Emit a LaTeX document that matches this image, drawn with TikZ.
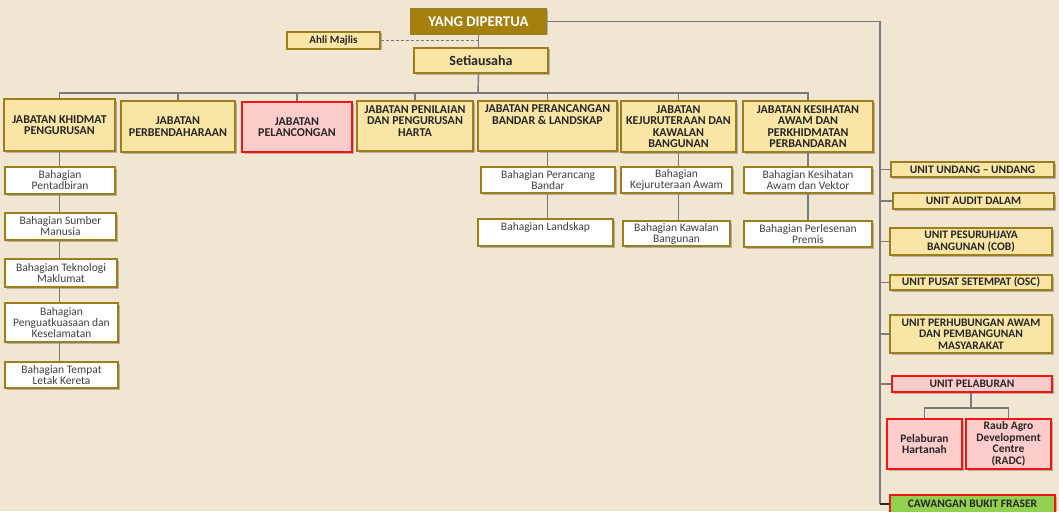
\documentclass[tikz,border=0pt]{standalone}
\usepackage{fontspec}
\setmainfont{Carlito}
\usepackage{tikz}
\usetikzlibrary{positioning,calc,shadows}
\definecolor{PageTan}{RGB}{240,230,209}
\definecolor{BoxYellow}{RGB}{249,229,165}
\definecolor{GoldLine}{RGB}{156,126,28}
\definecolor{HeadGold}{RGB}{166,128,14}
\definecolor{HotRed}{RGB}{245,20,20}
\definecolor{PinkFill}{RGB}{255,204,204}
\definecolor{FraserGreen}{RGB}{146,208,80}
\definecolor{LineGray}{RGB}{122,122,122}
\tikzset{
	box/.style={draw=GoldLine,line width=1.5pt,fill=BoxYellow,inner sep=0pt,align=center,text=black!85,
		drop shadow={shadow xshift=1.5pt,shadow yshift=-1.5pt,opacity=0.35,fill=black!70}},
	sz/.style 2 args={minimum width=#1,minimum height=#2},
	headbox/.style={box,fill=HeadGold,text=white,font=\bfseries\fontsize{14.8}{15}\selectfont},
	dept/.style={box,font=\bfseries\fontsize{12}{11.5}\selectfont},
	sub/.style={box,fill=white,text=black!75,font=\fontsize{11.5}{11}\selectfont},
	unit/.style={box,font=\bfseries\fontsize{11.5}{11.5}\selectfont},
	hot/.style={draw=HotRed,fill=PinkFill},
	conn/.style={draw=LineGray,line width=1.4pt},
}

\begin{document}
\begin{tikzpicture}[x=1pt,y=-1pt]
	\fill[PageTan] (0,0) rectangle (1059,511);
	\useasboundingbox (0,0) rectangle (1059,511);
	% top of the chart
	\node[headbox,sz={135pt}{25pt}] (ydp) at (478.5,21.5) {YANG DIPERTUA};
	\node[box,sz={93pt}{17pt},font=\bfseries\fontsize{11}{11}\selectfont] (ahli) at (333.5,40.5) {Ahli Majlis};
	\node[box,sz={134pt}{25pt},font=\bfseries\fontsize{14}{14}\selectfont] (sua) at (481,60.5) {Setiausaha};
	\coordinate (bus) at (478,93);
	\coordinate (trunk) at (880,0);
	% jabatan
	\node[dept,sz={111pt}{52pt}] (d1) at (59.5,125) {JABATAN KHIDMAT\\PENGURUSAN};
	\node[dept,sz={114pt}{51pt}] (d2) at (178,126.5) {JABATAN\\PERBENDAHARAAN};
	\node[dept,hot,sz={110pt}{50pt}] (d3) at (297,127) {JABATAN\\PELANCONGAN};
	\node[dept,sz={116pt}{50pt},text depth=10pt] (d4) at (415,126) {JABATAN PENILAIAN\\DAN PENGURUSAN\\HARTA};
	\node[dept,sz={139pt}{50pt},text depth=23pt] (d5) at (547.5,126) {JABATAN PERANCANGAN\\BANDAR \& LANDSKAP};
	\node[dept,sz={115pt}{51pt}] (d6) at (678.5,126.5) {JABATAN\\KEJURUTERAAN DAN\\KAWALAN\\BANGUNAN};
	\node[dept,sz={130pt}{51pt}] (d7) at (808,126.5) {JABATAN KESIHATAN\\AWAM DAN\\PERKHIDMATAN\\PERBANDARAN};
	% bahagian
	\node[sub,sz={110pt}{27pt}] (s11) at (60,180.5) {Bahagian\\Pentadbiran};
	\node[sub,sz={111pt}{27pt}] (s12) at (60.5,226.5) {Bahagian Sumber\\Manusia};
	\node[sub,sz={112pt}{28pt}] (s13) at (61,273) {Bahagian Teknologi\\Maklumat};
	\node[sub,sz={113pt}{39pt}] (s14) at (61.5,322.5) {Bahagian\\Penguatkuasaan dan\\Keselamatan};
	\node[sub,sz={113pt}{26pt}] (s15) at (61.5,375) {Bahagian Tempat\\Letak Kereta};
	\node[sub,sz={134pt}{26pt}] (s51) at (548,180) {Bahagian Perancang\\Bandar};
	\node[sub,sz={135pt}{27pt},text depth=11pt] (s52) at (545.5,232.5) {Bahagian Landskap};
	\node[sub,sz={111pt}{26pt}] (s61) at (676.5,180) {Bahagian\\Kejuruteraan Awam};
	\node[sub,sz={107pt}{25pt}] (s62) at (676.5,233.5) {Bahagian Kawalan\\Bangunan};
	\node[sub,sz={128pt}{26pt}] (s71) at (808,180) {Bahagian Kesihatan\\Awam dan Vektor};
	\node[sub,sz={128pt}{26pt}] (s72) at (808,234) {Bahagian Perlesenan\\Premis};
	% unit
	\node[unit,sz={163pt}{15pt}] (u1) at (972.5,169.5) {UNIT UNDANG -- UNDANG};
	\node[unit,sz={161pt}{16pt}] (u2) at (973.5,201) {UNIT AUDIT DALAM};
	\node[unit,sz={162pt}{27pt}] (u3) at (971,241.5) {UNIT PESURUHJAYA\\BANGUNAN (COB)};
	\node[unit,sz={162pt}{15pt}] (u4) at (971,282.5) {UNIT PUSAT SETEMPAT (OSC)};
	\node[unit,sz={162pt}{38pt}] (u5) at (971,334) {UNIT PERHUBUNGAN AWAM\\DAN PEMBANGUNAN\\MASYARAKAT};
	\node[unit,hot,sz={160pt}{16pt}] (u6) at (972,384) {UNIT PELABURAN};
	\node[unit,hot,sz={75pt}{50pt}] (p1) at (924.5,444) {Pelaburan\\Hartanah};
	\node[unit,hot,sz={85pt}{50pt}] (p2) at (1008.5,444) {Raub Agro\\Development\\Centre\\(RADC)};
	\node[unit,draw=HotRed,fill=FraserGreen,sz={165pt}{18pt}] (cbf) at (972.5,504) {CAWANGAN BUKIT FRASER};
	\coordinate (pb) at (971,408);

	% connectors
	\draw[conn] (ydp.south) -- (sua.north -| ydp.south);
	\draw[conn,densely dashed,line width=0.9pt] (ahli.east) -- (ahli.east -| ydp.south);
	\draw[conn] (sua.south -| ydp.south) -- (bus);
	\draw[conn] (d1.north) -- (d1.north |- bus) -- (d7.north |- bus) -- (d7.north);
	\foreach \d in {d2,d3,d4,d5,d6}
		\draw[conn] (\d.north) -- (\d.north |- bus);
	\foreach \a/\b in {d1/s11,s11/s12,s12/s13,s13/s14,s14/s15}
		\draw[conn] (\a.south -| d1.south) -- (\b.north -| d1.south);
	\draw[conn] (d5.south) -- (s51.north -| d5.south);
	\draw[conn] (s51.south -| d5.south) -- (s52.north -| d5.south);
	\draw[conn] (d6.south) -- (s61.north -| d6.south);
	\draw[conn] (s61.south -| d6.south) -- (s62.north -| d6.south);
	\draw[conn] (d7.south) -- (s71.north);
	\draw[conn] (s71.south) -- (s72.north);
	% right side
	\draw[conn] (ydp.east) -- (ydp.east -| trunk) -- (trunk |- cbf.west);
	\foreach \u in {u1,u2,u3,u4,u5,u6}
		\draw[conn] (trunk |- \u.west) -- (\u.west);
	\draw[line width=2pt,black!85] (trunk |- cbf.west) -- (cbf.west);
	\draw[conn] (u6.south -| pb) -- (pb);
	\draw[conn] (p1.north) -- (p1.north |- pb) -- (p2.north |- pb) -- (p2.north);
\end{tikzpicture}
\end{document}
